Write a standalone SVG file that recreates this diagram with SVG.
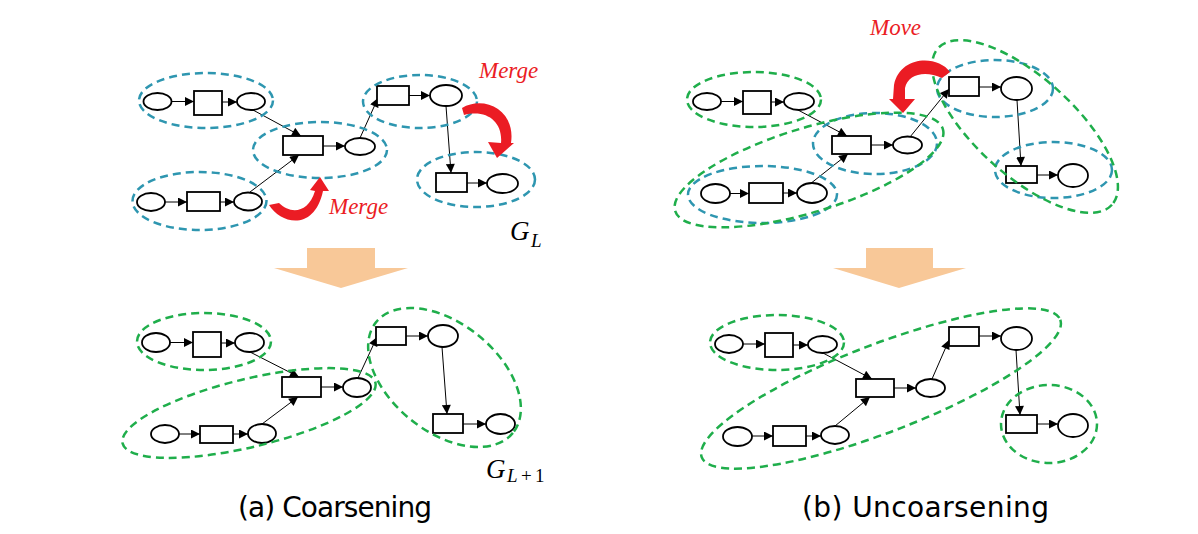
<svg xmlns="http://www.w3.org/2000/svg" width="1198" height="534" viewBox="0 0 1198 534">
<style>
.n{fill:#fff;stroke:#000;stroke-width:1.8}
.cb{fill:none;stroke:#2E96B0;stroke-width:2.5;stroke-dasharray:8 5}
.cg{fill:none;stroke:#1FAE4B;stroke-width:2.5;stroke-dasharray:8 5}
.e line{stroke:#000;stroke-width:1;marker-end:url(#ah)}
.red{fill:#EB1C24}
.ora{fill:#F8C898}
.mg{font-family:"Liberation Serif",serif;font-style:italic;font-size:23px;fill:#EB1C24}
.gm{font-family:"Liberation Serif",serif;font-style:italic;fill:#000}
.cap{font-family:"DejaVu Sans",sans-serif;font-size:28px;fill:#000}
</style>
<defs>
<marker id="ah" viewBox="0 0 10 10" refX="10" refY="5" markerUnits="userSpaceOnUse" markerWidth="10" markerHeight="9" orient="auto">
<path d="M0,0 L10,5 L0,10 z" fill="#000"/>
</marker>
</defs>
<rect width="1198" height="534" fill="#fff"/>

<g id="connectors" class="e">
<!-- panel a top -->
<line x1="172" y1="101.5" x2="194" y2="101.5"/>
<line x1="222" y1="102" x2="237" y2="102"/>
<line x1="165" y1="202" x2="187" y2="202"/>
<line x1="220" y1="202" x2="234" y2="202"/>
<line x1="323" y1="146" x2="345" y2="146"/>
<line x1="409" y1="95.5" x2="430" y2="95.5"/>
<line x1="467" y1="183" x2="487" y2="183"/>
<line x1="253" y1="110" x2="301" y2="136"/>
<line x1="250" y1="192" x2="299" y2="155"/>
<line x1="360" y1="138" x2="378" y2="98"/>
<line x1="446" y1="106" x2="451" y2="173"/>
<!-- panel a bottom -->
<line x1="170" y1="342.5" x2="193" y2="342.5"/>
<line x1="221" y1="343" x2="235" y2="343"/>
<line x1="179" y1="434" x2="200" y2="434"/>
<line x1="233" y1="434" x2="248" y2="434"/>
<line x1="321" y1="387" x2="343" y2="387"/>
<line x1="406" y1="336" x2="428" y2="336"/>
<line x1="463" y1="424" x2="486" y2="424"/>
<line x1="250" y1="352" x2="299" y2="377"/>
<line x1="262" y1="424" x2="298" y2="397"/>
<line x1="358" y1="378" x2="377" y2="337"/>
<line x1="442" y1="347" x2="447" y2="414"/>
<!-- panel b top -->
<line x1="721" y1="101.5" x2="743" y2="101.5"/>
<line x1="771" y1="102" x2="784" y2="102"/>
<line x1="730" y1="193.5" x2="749" y2="193.5"/>
<line x1="783" y1="193" x2="797" y2="193"/>
<line x1="871" y1="145" x2="893" y2="145"/>
<line x1="979" y1="87" x2="1001" y2="87"/>
<line x1="1037" y1="175" x2="1058" y2="175"/>
<line x1="798" y1="110" x2="847" y2="136"/>
<line x1="810" y1="184" x2="848" y2="154"/>
<line x1="910" y1="137" x2="949" y2="89"/>
<line x1="1017" y1="100" x2="1021" y2="166"/>
<!-- panel b bottom -->
<line x1="743" y1="344" x2="765" y2="344"/>
<line x1="793" y1="345" x2="808" y2="345"/>
<line x1="752" y1="436" x2="773" y2="436"/>
<line x1="806" y1="436" x2="821" y2="436"/>
<line x1="894" y1="388" x2="916" y2="388"/>
<line x1="979" y1="336" x2="1001" y2="336"/>
<line x1="1037" y1="424" x2="1058" y2="424"/>
<line x1="823" y1="353" x2="872" y2="379"/>
<line x1="835" y1="426" x2="870" y2="397"/>
<line x1="932" y1="379" x2="949" y2="340"/>
<line x1="1016" y1="350" x2="1020" y2="415"/>
</g>

<!-- panel a top nodes -->
<g id="a1-p1"><ellipse class="n" cx="157.5" cy="101.5" rx="14" ry="8.5"/></g>
<g id="a1-t1"><rect class="n" x="194" y="91" width="28" height="24"/></g>
<g id="a1-p2"><ellipse class="n" cx="251" cy="101.5" rx="14" ry="8.5"/></g>
<g id="a1-t2"><rect class="n" x="283" y="136" width="40" height="19"/></g>
<g id="a1-p3"><ellipse class="n" cx="360" cy="146.5" rx="15" ry="8.5"/></g>
<g id="a1-p4"><ellipse class="n" cx="151" cy="202" rx="14" ry="9"/></g>
<g id="a1-t3"><rect class="n" x="187" y="192" width="33" height="19"/></g>
<g id="a1-p5"><ellipse class="n" cx="248" cy="201.5" rx="14" ry="9"/></g>
<g id="a1-t4"><rect class="n" x="377" y="86" width="32" height="19"/></g>
<g id="a1-p6"><ellipse class="n" cx="446" cy="95.5" rx="16" ry="10.5"/></g>
<g id="a1-t5"><rect class="n" x="436" y="173" width="31" height="19"/></g>
<g id="a1-p7"><ellipse class="n" cx="502.5" cy="183.5" rx="15.5" ry="9.5"/></g>
<g id="a1-clusters">
<ellipse class="cb" cx="206" cy="100.5" rx="67" ry="27.5"/>
<ellipse class="cb" cx="320" cy="150" rx="67" ry="28"/>
<ellipse class="cb" cx="199.5" cy="201" rx="67" ry="29"/>
<ellipse class="cb" cx="420" cy="101.5" rx="57" ry="26.5"/>
<ellipse class="cb" cx="476" cy="179.5" rx="59" ry="27.5"/>
</g>

<!-- panel a bottom nodes -->
<g id="a2-p1"><ellipse class="n" cx="156" cy="342.5" rx="14" ry="9.5"/></g>
<g id="a2-t1"><rect class="n" x="193" y="332" width="28" height="25"/></g>
<g id="a2-p2"><ellipse class="n" cx="249.5" cy="342.5" rx="14.5" ry="9.5"/></g>
<g id="a2-t2"><rect class="n" x="282" y="377" width="39" height="20"/></g>
<g id="a2-p3"><ellipse class="n" cx="357" cy="387.5" rx="14" ry="9.5"/></g>
<g id="a2-p4"><ellipse class="n" cx="165" cy="434" rx="14" ry="9"/></g>
<g id="a2-t3"><rect class="n" x="200" y="426" width="33" height="17"/></g>
<g id="a2-p5"><ellipse class="n" cx="262" cy="433.5" rx="14" ry="9.5"/></g>
<g id="a2-t4"><rect class="n" x="376" y="327" width="30" height="18"/></g>
<g id="a2-p6"><ellipse class="n" cx="443" cy="336" rx="15" ry="11"/></g>
<g id="a2-t5"><rect class="n" x="433" y="414" width="30" height="19"/></g>
<g id="a2-p7"><ellipse class="n" cx="500.5" cy="424" rx="14.5" ry="10"/></g>
<g id="a2-clusters">
<ellipse class="cg" cx="204" cy="341.5" rx="67" ry="28.5"/>
<ellipse class="cg" cx="249" cy="413" rx="130" ry="34" transform="rotate(-13.5 249 413)"/>
<ellipse class="cg" cx="444.5" cy="377.5" rx="88" ry="54" transform="rotate(39 444.5 377.5)"/>
</g>

<!-- panel b top nodes -->
<g id="b1-p1"><ellipse class="n" cx="707" cy="101.5" rx="14" ry="8.5"/></g>
<g id="b1-t1"><rect class="n" x="743" y="91" width="28" height="23"/></g>
<g id="b1-p2"><ellipse class="n" cx="799" cy="101.5" rx="15" ry="8.5"/></g>
<g id="b1-t2"><rect class="n" x="832" y="136" width="39" height="18"/></g>
<g id="b1-p3"><ellipse class="n" cx="907.5" cy="145" rx="14.5" ry="8.5"/></g>
<g id="b1-p4"><ellipse class="n" cx="715.5" cy="193.5" rx="14.5" ry="9.5"/></g>
<g id="b1-t3"><rect class="n" x="749" y="183" width="34" height="20"/></g>
<g id="b1-p5"><ellipse class="n" cx="812" cy="193" rx="15" ry="10"/></g>
<g id="b1-t4"><rect class="n" x="949" y="77" width="30" height="19"/></g>
<g id="b1-p6"><ellipse class="n" cx="1016.5" cy="88.5" rx="15.5" ry="11.5"/></g>
<g id="b1-t5"><rect class="n" x="1006" y="166" width="31" height="17"/></g>
<g id="b1-p7"><ellipse class="n" cx="1073" cy="175.5" rx="15" ry="11.5"/></g>
<g id="b1-clusters">
<ellipse class="cb" cx="875" cy="143.5" rx="62" ry="30.5"/>
<ellipse class="cb" cx="762.5" cy="194.5" rx="74.5" ry="28.5"/>
<ellipse class="cb" cx="995" cy="88.5" rx="58" ry="28.5"/>
<ellipse class="cb" cx="1053.5" cy="170" rx="58.5" ry="28"/>
<ellipse class="cg" cx="754" cy="99.5" rx="67" ry="27.5"/>
<ellipse class="cg" cx="809" cy="170" rx="140" ry="42" transform="rotate(-17 809 170)"/>
<ellipse class="cg" cx="1025" cy="126.5" rx="117" ry="49" transform="rotate(42 1025 126.5)"/>
</g>

<!-- panel b bottom nodes -->
<g id="b2-p1"><ellipse class="n" cx="729" cy="344" rx="14" ry="9"/></g>
<g id="b2-t1"><rect class="n" x="765" y="333" width="28" height="24"/></g>
<g id="b2-p2"><ellipse class="n" cx="822.5" cy="344.5" rx="14.5" ry="8.5"/></g>
<g id="b2-t2"><rect class="n" x="856" y="379" width="38" height="18"/></g>
<g id="b2-p3"><ellipse class="n" cx="930.5" cy="388" rx="14.5" ry="9"/></g>
<g id="b2-p4"><ellipse class="n" cx="737.5" cy="436.5" rx="14.5" ry="9.5"/></g>
<g id="b2-t3"><rect class="n" x="773" y="426" width="33" height="20"/></g>
<g id="b2-p5"><ellipse class="n" cx="835" cy="435" rx="14" ry="9"/></g>
<g id="b2-t4"><rect class="n" x="949" y="327" width="30" height="19"/></g>
<g id="b2-p6"><ellipse class="n" cx="1016.5" cy="338.5" rx="15.5" ry="11.5"/></g>
<g id="b2-t5"><rect class="n" x="1006" y="415" width="31" height="18"/></g>
<g id="b2-p7"><ellipse class="n" cx="1073" cy="425.5" rx="15" ry="11.5"/></g>
<g id="b2-clusters">
<ellipse class="cg" cx="777" cy="342.5" rx="67" ry="27.5"/>
<ellipse class="cg" cx="881" cy="388.5" rx="192" ry="44" transform="rotate(-21 881 388.5)"/>
<ellipse class="cg" cx="1049" cy="424" rx="48" ry="39"/>
</g>

<!-- red curved arrows -->
<g id="merge-top-arrow">
<path class="red" d="M462,108 C484,95 516,110 511,143 L514,143 L497,158 L488,142 L501,143 C503,122 487,109 464,115 Z"/>
</g>
<g id="merge-bottom-arrow">
<path class="red" d="M269,205 C281,224 314,232 323,191 L329,191 L320,177 L310,190 L315,191 C308,214 290,214 279,203 Z"/>
</g>
<g id="move-arrow">
<path class="red" d="M950,72 C938,55 900,55 894,85 L893,99 L889,99 L903,113 L915,99 L905,99 L905,88 C908,74 925,70 942,78 Z"/>
</g>

<!-- orange arrows -->
<g id="arrow-a"><path class="ora" d="M307,248 L375,248 L375,268 L408,268 L341,288 L274,268 L307,268 Z"/></g>
<g id="arrow-b"><path class="ora" d="M866,248 L933,248 L933,268 L966,268 L899,288 L833,268 L866,268 Z"/></g>

<!-- labels -->
<text class="mg" x="479" y="78">Merge</text>
<text class="mg" x="329" y="214">Merge</text>
<text class="mg" x="870" y="35">Move</text>
<text class="gm" x="510" y="240" font-size="27">G<tspan font-size="19" x="531" y="247">L</tspan></text>
<text class="gm" x="486" y="478" font-size="27">G<tspan font-size="19" x="507" y="482">L</tspan><tspan font-style="normal" font-size="19" x="521" y="482">+</tspan><tspan font-style="normal" font-size="19" x="535" y="482">1</tspan></text>
<text class="cap" x="238" y="517" textLength="194">(a) Coarsening</text>
<text class="cap" x="802" y="517" textLength="247">(b) Uncoarsening</text>
</svg>
